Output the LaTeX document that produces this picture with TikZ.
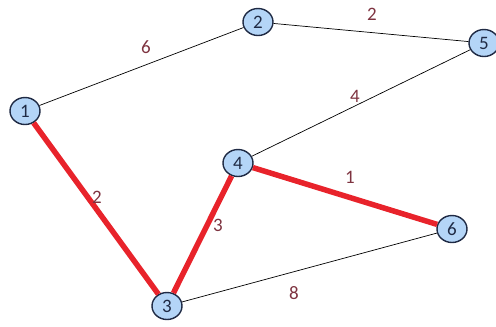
\documentclass[tikz,border=0pt]{standalone}
\usepackage{fontspec}
\setmainfont{Carlito}
\usetikzlibrary{shapes.geometric}
\definecolor{nodefill}{HTML}{B4D5F7}
\definecolor{nodedraw}{HTML}{1F2A44}
\definecolor{redge}{HTML}{E8232B}
\definecolor{lab}{HTML}{7E3340}
\begin{document}
\begin{tikzpicture}[x=1pt,y=-1pt,
  vert/.style={ellipse,draw=nodedraw,line width=1.4pt,fill=nodefill,minimum width=30pt,minimum height=27pt,inner sep=0pt,text=nodedraw,font=\fontsize{19}{19}\selectfont},
  thin edge/.style={draw=black,line width=0.7pt},
  red edge/.style={draw=redge,line width=5.5pt},
  wlab/.style={text=lab,font=\fontsize{19}{19}\selectfont}]
\useasboundingbox (0,0) rectangle (496,327);
% vertices
\node[vert] (n1) at (25,111) {1};
\node[vert] (n2) at (258,22) {2};
\node[vert] (n5) at (484,43) {5};
\node[vert] (n4) at (238,163) {4};
\node[vert] (n6) at (452,229) {6};
\node[vert] (n3) at (167,306) {3};
% edges
\draw[thin edge] (n1) -- (n2);
\draw[thin edge] (n2) -- (n5);
\draw[thin edge] (n4) -- (n5);
\draw[thin edge] (n3) -- (n6);
\draw[red edge] (n1) -- (n3);
\draw[red edge] (n3) -- (n4);
\draw[red edge] (n4) -- (n6);
% labels
\node[wlab] (l12) at (146,47) {6};
\node[wlab] (l25) at (372,14) {2};
\node[wlab] (l45) at (355,96) {4};
\node[wlab] (l13) at (97,197) {2};
\node[wlab] (l46) at (350,177) {1};
\node[wlab] (l34) at (218,225) {3};
\node[wlab] (l36) at (294,293) {8};
\end{tikzpicture}
\end{document}
